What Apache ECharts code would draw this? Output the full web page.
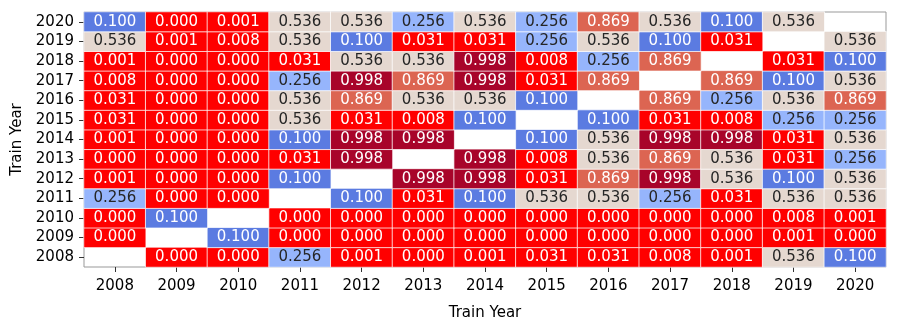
<!DOCTYPE html>
<html><head><meta charset="utf-8">
<script src="https://cdn.jsdelivr.net/npm/echarts@6/dist/echarts.min.js"></script>
<style>html,body{margin:0;padding:0;background:#fff}#c{width:898px;height:329px}</style>
</head><body><div id="c"></div>
<script>
const testYears = ['2008','2009','2010','2011','2012','2013','2014','2015','2016','2017','2018','2019','2020'];
const trainYears = ['2008','2009','2010','2011','2012','2013','2014','2015','2016','2017','2018','2019','2020'];
// rows by train year (columns = test year 2008..2020)
const row2020 = [0.100,0.000,0.001,0.536,0.536,0.256,0.536,0.256,0.869,0.536,0.100,0.536,null];
const row2019 = [0.536,0.001,0.008,0.536,0.100,0.031,0.031,0.256,0.536,0.100,0.031,null,0.536];
const row2018 = [0.001,0.000,0.000,0.031,0.536,0.536,0.998,0.008,0.256,0.869,null,0.031,0.100];
const row2017 = [0.008,0.000,0.000,0.256,0.998,0.869,0.998,0.031,0.869,null,0.869,0.100,0.536];
const row2016 = [0.031,0.000,0.000,0.536,0.869,0.536,0.536,0.100,null,0.869,0.256,0.536,0.869];
const row2015 = [0.031,0.000,0.000,0.536,0.031,0.008,0.100,null,0.100,0.031,0.008,0.256,0.256];
const row2014 = [0.001,0.000,0.000,0.100,0.998,0.998,null,0.100,0.536,0.998,0.998,0.031,0.536];
const row2013 = [0.000,0.000,0.000,0.031,0.998,null,0.998,0.008,0.536,0.869,0.536,0.031,0.256];
const row2012 = [0.001,0.000,0.000,0.100,null,0.998,0.998,0.031,0.869,0.998,0.536,0.100,0.536];
const row2011 = [0.256,0.000,0.000,null,0.100,0.031,0.100,0.536,0.536,0.256,0.031,0.536,0.536];
const row2010 = [0.000,0.100,null,0.000,0.000,0.000,0.000,0.000,0.000,0.000,0.000,0.008,0.001];
const row2009 = [0.000,null,0.100,0.000,0.000,0.000,0.000,0.000,0.000,0.000,0.000,0.001,0.000];
const row2008 = [null,0.000,0.000,0.256,0.001,0.000,0.001,0.031,0.031,0.008,0.001,0.536,0.100];
const rows = [row2008,row2009,row2010,row2011,row2012,row2013,row2014,row2015,row2016,row2017,row2018,row2019,row2020];

function cellColor(v){
  if (v < 0.05) return '#ff0000';
  if (v < 0.2) return '#5b7be1';
  if (v < 0.4) return '#96b5fc';
  if (v < 0.7) return '#e5d8d0';
  if (v < 0.95) return '#dc6552';
  return '#a8042a';
}
function textColor(v){
  if (v >= 0.2 && v < 0.7) return '#262626';
  return '#ffffff';
}
const data = [];
rows.forEach((r, yi) => r.forEach((v, xi) => {
  if (v === null) return;
  data.push({value:[xi, yi, v], itemStyle:{color:cellColor(v)}, label:{color:textColor(v)}});
}));

const font = 'DejaVu Sans';
const chart = echarts.init(document.getElementById('c'));
chart.setOption({
  animation:false,
  grid:{left:84, right:12, top:12, bottom:62, show:true, borderColor:'#999', borderWidth:1, backgroundColor:'#fff'},
  xAxis:{type:'category', data:testYears, name:'Train Year', nameLocation:'middle', nameGap:39,
    nameTextStyle:{fontFamily:font, fontSize:15, color:'#000'},
    axisLine:{show:false}, axisTick:{show:true, alignWithLabel:true, length:5, lineStyle:{color:'#333'}},
    axisLabel:{fontFamily:font, fontSize:15, color:'#000', margin:12}, splitLine:{show:false}, splitArea:{show:false}},
  yAxis:{type:'category', data:trainYears, name:'Train Year', nameLocation:'middle', nameGap:54, nameRotate:90,
    nameTextStyle:{fontFamily:font, fontSize:15, color:'#000'},
    axisLine:{show:false}, axisTick:{show:true, alignWithLabel:true, length:5, lineStyle:{color:'#333'}},
    axisLabel:{fontFamily:font, fontSize:15, color:'#000', margin:10}, splitLine:{show:false}, splitArea:{show:false}},
  series:[{type:'heatmap', data:data,
    itemStyle:{borderColor:'rgba(255,255,255,0.75)', borderWidth:1},
    label:{show:true, fontFamily:font, fontSize:15, formatter:p=>p.value[2].toFixed(3)},
    emphasis:{disabled:true}}]
});
</script></body></html>
